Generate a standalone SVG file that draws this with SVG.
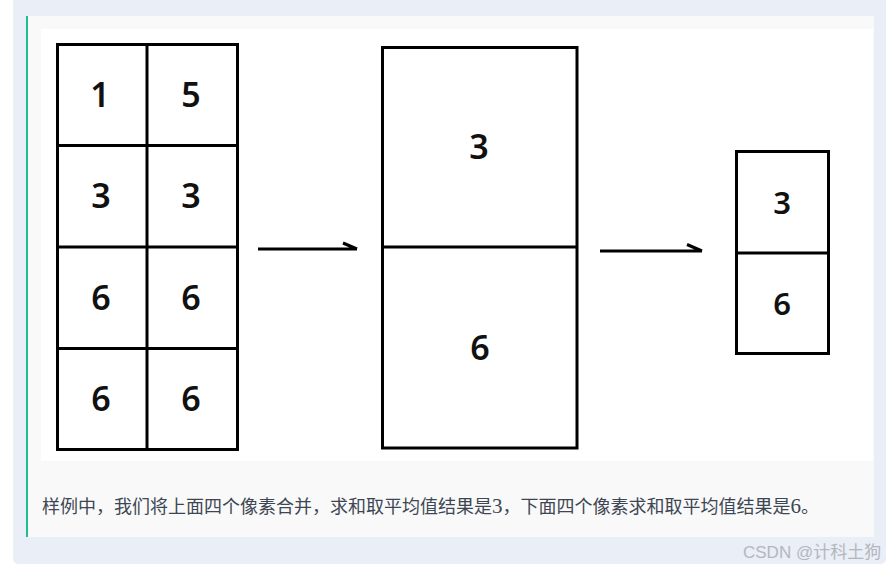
<svg xmlns="http://www.w3.org/2000/svg" width="895" height="571" viewBox="0 0 895 571">
<style>
.cell{fill:#fff;stroke:#000;stroke-width:3}
.ln{stroke:#000;stroke-width:3;fill:none}
.dg{font-family:"Noto Sans",Lato,sans-serif;font-weight:600;font-size:34px;fill:#111;text-anchor:middle}
.dgs{font-size:31px}
.arr{stroke:#000;stroke-width:3;fill:none;stroke-linecap:butt}
.cap{font-family:"Noto Sans CJK SC","Noto Sans",sans-serif;font-size:18px;fill:#3d4753}
.num{font-family:"Liberation Serif",serif;font-size:21px}
.wm{font-family:"Liberation Sans","Noto Sans CJK SC",sans-serif;font-size:17px;fill:#b3b7bd}
</style>
<rect x="0" y="0" width="895" height="571" fill="#ffffff"/>
<rect x="13" y="-10" width="873" height="574" rx="5" fill="#eaeef6"/>
<rect x="26" y="16" width="848" height="521" fill="#f9f9f9"/>
<rect x="26" y="16" width="2" height="521" fill="#1fbd94"/>
<rect x="41" y="29" width="832" height="432" fill="#ffffff"/>

<g id="grid-input">
<rect class="cell" x="57.5" y="44.5" width="180" height="405"/>
<line class="ln" x1="147" y1="44.5" x2="147" y2="449.5"/>
<line class="ln" x1="57.5" y1="145.5" x2="237.5" y2="145.5"/>
<line class="ln" x1="57.5" y1="247" x2="237.5" y2="247"/>
<line class="ln" x1="57.5" y1="348.5" x2="237.5" y2="348.5"/>
<text class="dg" x="100" y="107">1</text>
<text class="dg" x="191" y="107">5</text>
<text class="dg" x="101" y="208">3</text>
<text class="dg" x="191" y="208">3</text>
<text class="dg" x="101" y="310">6</text>
<text class="dg" x="191" y="310">6</text>
<text class="dg" x="101" y="411">6</text>
<text class="dg" x="191" y="411">6</text>
</g>

<g id="grid-merged">
<rect class="cell" x="382.5" y="47.5" width="194.5" height="400.5"/>
<line class="ln" x1="382.5" y1="247" x2="577" y2="247"/>
<text class="dg" x="479" y="158.5">3</text>
<text class="dg" x="480" y="360">6</text>
</g>

<g id="grid-output">
<rect class="cell" x="736.5" y="151.5" width="92" height="202"/>
<line class="ln" x1="736.5" y1="253" x2="828.5" y2="253"/>
<text class="dg dgs" x="782" y="213.5">3</text>
<text class="dg dgs" x="782" y="315">6</text>
</g>

<g id="connectors">
<path class="arr" d="M258 249 H357 M343 243 L357 249"/>
<path class="arr" d="M600 251 H702 M687 244.5 L702 251"/>
</g>

<text class="cap" x="42" y="512.5">样例中，我们将上面四个像素合并，求和取平均值结果是<tspan class="num">3</tspan>，下面四个像素求和取平均值结果是<tspan class="num">6</tspan>。</text>
<text class="wm" x="743" y="557.5">CSDN @计科土狗</text>
</svg>
